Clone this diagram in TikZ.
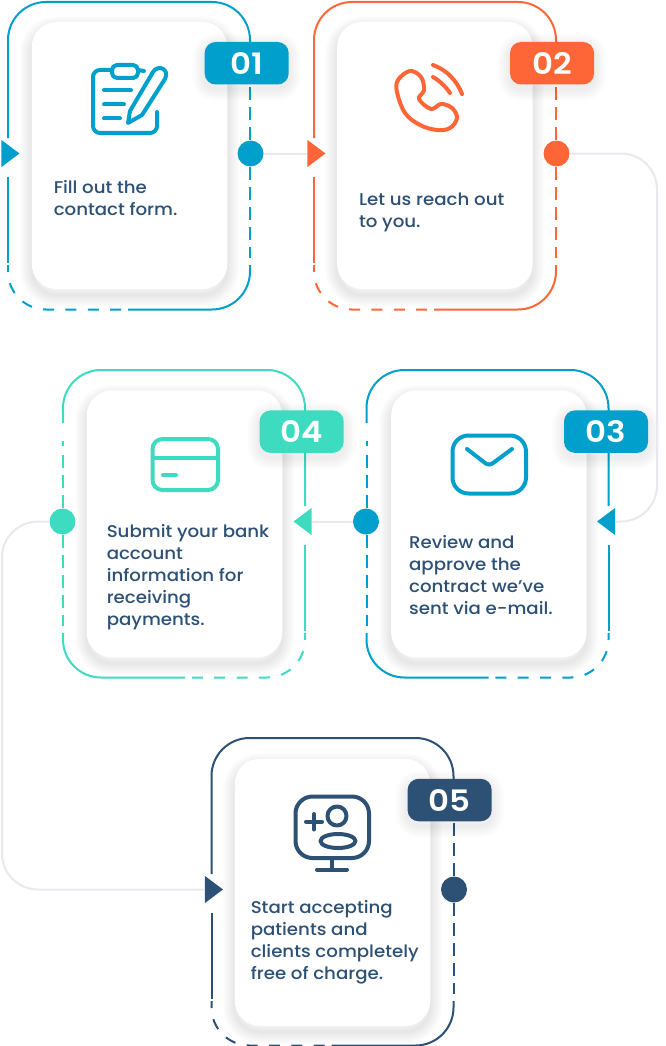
\documentclass[tikz,border=0pt]{standalone}
\usepackage{xcolor}
\usepackage{fontspec}
\setmainfont[FakeStretch=1.07,UprightFont=* Medium]{Poppins}
\newfontfamily\badgefont[FakeStretch=1.1,UprightFont=* SemiBold]{Poppins}
\usepackage{tikz}
\usetikzlibrary{positioning,shapes.geometric,shadows}

\definecolor{stepblue}{HTML}{009FCC}
\definecolor{steporange}{HTML}{FF6637}
\definecolor{stepteal}{HTML}{3DDBC0}
\definecolor{stepnavy}{HTML}{2D5075}
\definecolor{linkgrey}{HTML}{E8E8EE}

\tikzset{
    softring/.style={general shadow={draw=black, fill=none, line width=#1, opacity=.008, shadow yshift=-6pt}},
    softsmall/.style={general shadow={draw=black, fill=none, line width=#1, opacity=.012, shadow yshift=-4pt}},
    cardbox/.style={fill=white, rounded corners=25pt, minimum width=195.5pt, minimum height=267pt, inner sep=0pt,
        softring=24pt, softring=22pt, softring=20pt, softring=18pt, softring=16pt, softring=14pt,
        softring=12pt, softring=10pt, softring=8pt, softring=6pt, softring=4pt, softring=2pt},
    badgebox/.style={rounded corners=11pt, minimum width=84pt, minimum height=42.5pt, inner sep=0pt, text=white,
        font=\fontsize{29.5}{30}\badgefont,
        softsmall=24pt, softsmall=20pt, softsmall=16pt, softsmall=12pt, softsmall=8pt, softsmall=4pt},
    bodytext/.style={align=left, inner sep=0pt, text=stepnavy, font=\fontsize{17}{22}\selectfont},
    framestroke/.style={line width=2pt},
    framedash/.style={line width=2pt, dash pattern=on 11pt off 11.4pt, dash phase=4pt},
    sidedash/.style={line width=2pt, dash pattern=on 13pt off 7pt},
    dotmark/.style={circle, inner sep=0pt, minimum size=26pt},
    tipmark/.style={isosceles triangle, isosceles triangle stretches, inner sep=0pt, minimum width=27pt, minimum height=18pt, anchor=apex},
    linkline/.style={draw=linkgrey, line width=2pt},
    iconline/.style={line width=4pt, line cap=round, line join=round},
}

\begin{document}
\begin{tikzpicture}[x=1pt, y=-1pt]
    \useasboundingbox (0,0) rectangle (665,1046);

    % loops round each card
    \foreach \fx/\fy/\fs/\tone in {8/2/1/stepblue, 314/2/1/steporange, 608.5/370/-1/stepblue, 305/370/-1/stepteal, 211.5/738/1/stepnavy} {
        \begin{scope}[shift={(\fx,\fy)}, xscale=\fs, draw=\tone]
            \draw[framestroke, rounded corners=38pt] (242,53) -- (242,0) -- (0,0) -- (0,136);
            \draw[framestroke] (0,175) -- (0,261);
            \draw[framedash, rounded corners=38pt] (0,263) -- (0,307.5) -- (115,307.5);
            \draw[framestroke, rounded corners=38pt] (120,307.5) -- (242,307.5) -- (242,263);
            \draw[framestroke] (242,71) -- (242,76);
            \draw[sidedash] (242,85) -- (242,256);
        \end{scope}
    }

    \node[cardbox] (card01) at (129.5,155.5) {};
    \node[cardbox, right=109.5pt of card01] (card02) {};
    \node[cardbox, below=101pt of card02, xshift=54pt] (card03) {};
    \node[cardbox, left=108.5pt of card03] (card04) {};
    \node[cardbox, below=101pt of card04, xshift=148pt] (card05) {};

    \node[badgebox, fill=stepblue, below right=20pt and -23pt of card01.north east] (badge01) {\raisebox{-1pt}{01}};
    \node[badgebox, fill=steporange, below right=20pt and -23pt of card02.north east] (badge02) {\raisebox{-1pt}{02}};
    \node[badgebox, fill=stepblue, below right=20pt and -23pt of card03.north east] (badge03) {\raisebox{-1pt}{03}};
    \node[badgebox, fill=stepteal, below right=20pt and -23pt of card04.north east] (badge04) {\raisebox{-1pt}{04}};
    \node[badgebox, fill=stepnavy, below right=20pt and -23pt of card05.north east] (badge05) {\raisebox{-1pt}{05}};

    \node[bodytext, below right=158pt and 22pt of card01.north west] (text01) {Fill out the\\contact form.};
    \node[bodytext, below right=171pt and 22pt of card02.north west] (text02) {Let us reach out\\to you.};
    \node[bodytext, below right=145pt and 18pt of card03.north west] (text03) {Review and\\approve the\\contract we’ve\\sent via e-mail.};
    \node[bodytext, below right=134pt and 20pt of card04.north west] (text04) {Submit your bank\\account\\information for\\receiving\\payments.};
    \node[bodytext, below right=142pt and 16pt of card05.north west] (text05) {Start accepting\\patients and\\clients completely\\free of charge.};

    % form
    \begin{scope}[iconline, draw=stepblue]
        \draw[rounded corners=7pt] (112,70) -- (93,70) -- (93,133) -- (157,133) -- (157,112);
        \draw[rounded corners=5pt] (112,65) rectangle (138,78);
        \draw (138,70) -- (144,71);
        \draw (104,90) -- (131,90);
        \draw (104,104.5) -- (124,104.5);
        \draw (104,118.5) -- (120,118.5);
        \draw (128,123) -- (130,111) -- (153,72) .. controls (158,64) and (170,69) .. (165,79) -- (142,115) -- cycle;
    \end{scope}

    % phone
    \begin{scope}[iconline, draw=steporange]
        \draw plot[smooth cycle, tension=.6] coordinates {(398,80) (397,92) (405,113) (420,125) (437,130) (450,128) (457,118) (452,108) (441,104) (431,109) (419,99) (424,90) (421,77) (410,71)};
        \draw (433,77) .. controls (440,81) and (446,87) .. (450,93);
        \draw (433,65) .. controls (447,70) and (457,81) .. (462,94);
    \end{scope}

    % mail
    \begin{scope}[iconline, draw=stepblue]
        \draw[rounded corners=16pt] (452.5,435.5) rectangle (526,493.5);
        \draw[rounded corners=4pt] (467,449) -- (489,466) -- (512,449);
    \end{scope}

    % bank card
    \begin{scope}[iconline, draw=stepteal]
        \draw[rounded corners=10pt] (152.5,439) rectangle (218,490);
        \draw (152.5,458) -- (218,458);
        \draw (163,475) -- (176,475);
    \end{scope}

    % monitor
    \begin{scope}[iconline, draw=stepnavy]
        \draw[rounded corners=17pt] (295.5,796.5) rectangle (369,858);
        \draw (332,858) -- (332,869.5);
        \draw (317,869.5) -- (347,869.5);
        \draw (337,816) circle[radius=9.5];
        \draw (338,841) ellipse[x radius=17.5, y radius=7];
        \draw (306,821.7) -- (322,821.7);
        \draw (314,814) -- (314,829.5);
    \end{scope}

    \foreach \id/\fx/\fy/\fs/\turn/\tone in {01/8/2/1/0/stepblue, 02/314/2/1/0/steporange, 03/608.5/370/-1/180/stepblue, 04/305/370/-1/180/stepteal, 05/211.5/738/1/0/stepnavy} {
        \begin{scope}[shift={(\fx,\fy)}, xscale=\fs]
            \node[dotmark, fill=\tone] (dot\id) at (242.5,151.5) {};
            \node[tipmark, fill=\tone, shape border rotate=\turn] (tip\id) at (12,151.5) {};
        \end{scope}
    }

    \coordinate (railright) at (657,340);
    \coordinate (railleft) at (2,700);
    \draw[linkline] (dot01) -- (tip02);
    \draw[linkline, rounded corners=36pt] (dot02) -| (railright) |- (tip03);
    \draw[linkline] (dot03) -- (tip04);
    \draw[linkline, rounded corners=36pt] (dot04) -| (railleft) |- (tip05);
\end{tikzpicture}
\end{document}
